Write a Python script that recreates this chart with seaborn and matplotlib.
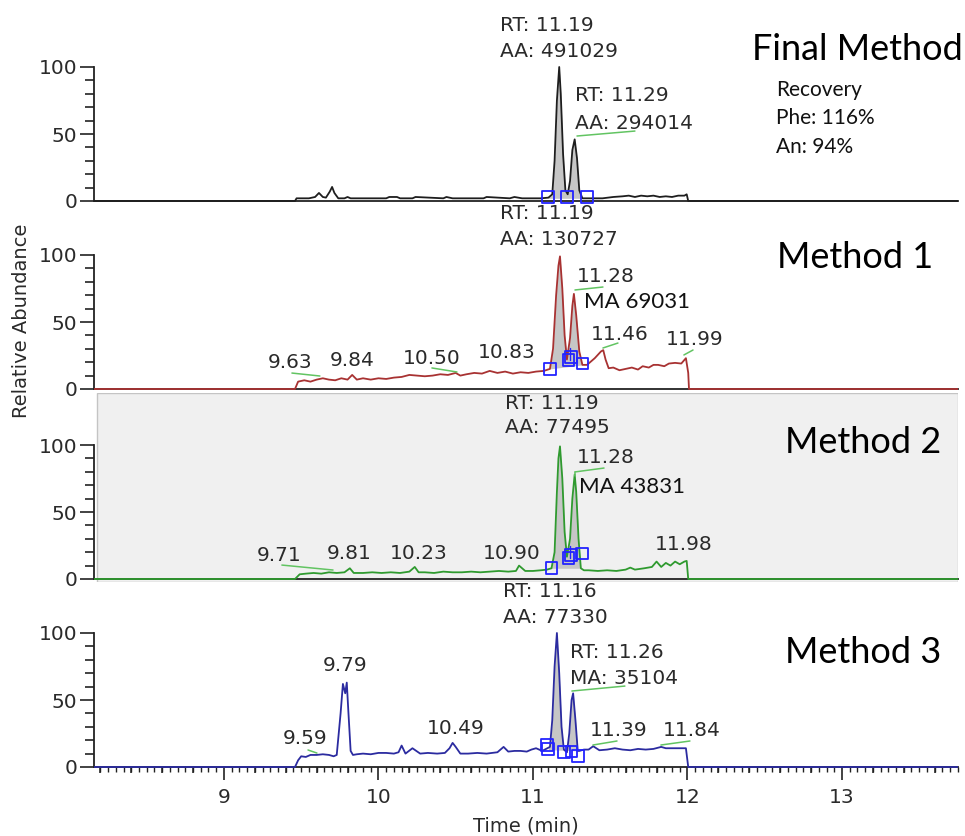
import numpy as np
import pandas as pd
import matplotlib
matplotlib.use("Agg")
import matplotlib.pyplot as plt
import seaborn as sns
from matplotlib.ticker import MultipleLocator, FixedLocator
from matplotlib.patches import Rectangle

# ---------------- data ----------------
panel_names = ["Final Method", "Method 1", "Method 2", "Method 3"]

final_t = [8.16, 9.46, 9.47, 9.55, 9.59, 9.615, 9.64, 9.66, 9.685, 9.70, 9.715, 9.74, 9.78, 9.80,
           9.82, 9.84, 10.05, 10.07, 10.12, 10.14, 10.22, 10.24, 10.42, 10.44, 10.48, 10.68, 10.70,
           10.85, 10.88, 10.93, 11.05, 11.10, 11.125, 11.14, 11.155, 11.17, 11.18, 11.195, 11.21,
           11.225, 11.24, 11.255, 11.27, 11.285, 11.30, 11.32, 11.36, 11.45, 11.52, 11.58, 11.62,
           11.66, 11.70, 11.74, 11.78, 11.82, 11.86, 11.90, 11.94, 11.98, 11.995, 12.005, 13.76]
final_v = [0, 0, 2, 2, 3, 6, 3, 2.5, 7, 10.5, 6, 2, 2, 3, 2, 2, 2, 3, 3, 2, 2, 3, 2, 3, 2, 2, 3, 2,
           3, 2, 2, 2.5, 5, 30, 75, 100, 80, 35, 8, 5, 15, 38, 46, 32, 8, 2, 2, 2, 3, 3.5, 4, 3, 4,
           3.5, 4, 3, 3.5, 3, 4, 4, 5, 0, 0]

m1_t = [8.16, 9.46, 9.48, 9.52, 9.56, 9.60, 9.64, 9.68, 9.72, 9.76, 9.80, 9.83, 9.86, 9.90, 9.95,
        10.00, 10.05, 10.10, 10.15, 10.20, 10.25, 10.30, 10.35, 10.40, 10.45, 10.50, 10.53, 10.57,
        10.62, 10.67, 10.72, 10.77, 10.82, 10.87, 10.92, 10.97, 11.02, 11.07, 11.11, 11.13, 11.15,
        11.165, 11.175, 11.19, 11.205, 11.22, 11.24, 11.255, 11.265, 11.28, 11.30, 11.32, 11.35,
        11.40, 11.44, 11.455, 11.47, 11.49, 11.52, 11.56, 11.60, 11.64, 11.68, 11.71, 11.75, 11.78,
        11.81, 11.85, 11.88, 11.92, 11.96, 11.99, 12.005, 12.01, 13.76]
m1_v = [0, 0, 5.5, 6.5, 5.5, 7, 8, 7, 6.5, 8, 7, 10.5, 7, 8, 7, 8, 7.5, 8.5, 9, 10.5, 10, 9.5, 10,
        11, 10.5, 12, 10, 11, 12, 11.5, 13.5, 12, 13, 11.5, 12.5, 12, 13, 13.5, 15, 30, 70, 92, 99,
        75, 40, 22, 38, 62, 71, 55, 28, 18, 18, 23, 28, 29, 22, 15.5, 16, 14, 15, 16, 14.5, 17, 16,
        18, 18, 17, 19, 19.5, 19, 23, 12, 0, 0]

m2_t = [8.16, 9.46, 9.49, 9.53, 9.58, 9.63, 9.68, 9.73, 9.78, 9.815, 9.84, 9.90, 9.96, 10.02, 10.08,
        10.14, 10.20, 10.235, 10.26, 10.30, 10.36, 10.42, 10.48, 10.54, 10.60, 10.66, 10.72, 10.78,
        10.84, 10.89, 10.91, 10.95, 11.00, 11.05, 11.09, 11.12, 11.14, 11.155, 11.165, 11.175,
        11.19, 11.205, 11.22, 11.24, 11.255, 11.27, 11.28, 11.295, 11.31, 11.33, 11.36, 11.42,
        11.48, 11.54, 11.60, 11.63, 11.66, 11.72, 11.77, 11.80, 11.83, 11.86, 11.89, 11.92, 11.95,
        11.98, 11.995, 12.005, 13.76]
m2_v = [0, 0, 3.5, 4, 4.5, 4, 5, 4.5, 5, 8, 4.5, 4.5, 5, 4.5, 5, 4.5, 5.5, 9, 5, 5, 4.5, 5.5, 5, 5,
        5.5, 5, 5.5, 6, 5.5, 6, 10, 6, 6, 6.5, 7, 8, 20, 65, 90, 99, 75, 35, 16.6, 30, 60, 78, 65,
        30, 8, 6.5, 6.5, 6, 6.5, 6, 7, 8.5, 7, 8, 9, 13, 9, 12, 10, 13, 11, 13, 13.5, 0, 0]

m3_t = [8.16, 9.46, 9.48, 9.50, 9.53, 9.56, 9.60, 9.64, 9.68, 9.71, 9.73, 9.755, 9.77, 9.785, 9.795,
        9.805, 9.82, 9.835, 9.86, 9.90, 9.95, 10.00, 10.05, 10.10, 10.13, 10.15, 10.175, 10.22,
        10.27, 10.32, 10.38, 10.43, 10.46, 10.48, 10.50, 10.53, 10.58, 10.64, 10.70, 10.77, 10.81,
        10.84, 10.88, 10.92, 10.96, 10.99, 11.02, 11.06, 11.11, 11.125, 11.14, 11.155, 11.17,
        11.185, 11.20, 11.22, 11.235, 11.25, 11.26, 11.275, 11.29, 11.30, 11.33, 11.36,
        11.39, 11.43, 11.48, 11.53, 11.58, 11.63, 11.68, 11.73, 11.78, 11.83, 11.86, 11.90, 11.95,
        11.99, 12.005, 13.76]
m3_v = [0, 0, 5, 8, 7.5, 9, 9, 9.5, 9, 8, 9, 40, 62, 55, 63, 42, 12, 9, 9.5, 10, 9.5, 10.5, 10.5,
        10, 11, 16, 10, 14, 10, 10.5, 10, 10.5, 14, 18, 15, 10, 10, 10.5, 10, 11, 15, 11.5, 12, 12,
        11.5, 13, 14, 12, 15, 35, 75, 100, 70, 30, 13, 11, 25, 50, 55, 35, 12, 12, 13,
        13, 15.5, 12.5, 13, 14, 13, 12.5, 13.5, 13, 13.5, 15, 14, 14, 14, 14, 0, 0]

# integration boundary squares (time, intensity)
final_sq_t = [11.097, 11.22, 11.35]
final_sq_v = [3, 3, 3]
m1_sq_t = [11.11, 11.23, 11.245, 11.32]
m1_sq_v = [15, 21.5, 24, 19]
m2_sq_t = [11.12, 11.23, 11.245, 11.315]
m2_sq_v = [8, 15.4, 18, 19]
m3_sq_t = [11.09, 11.095, 11.20, 11.25, 11.29]
m3_sq_v = [16.5, 13.5, 11, 11.5, 8]

# integrated peak windows (start, end, baseline start, baseline end)
final_fill = (11.10, 11.34, 2, 2)
m1_fill = (11.11, 11.32, 15, 18)
m2_fill = (11.12, 11.31, 8, 8)
m3_fill = (11.10, 11.29, 13, 12)

recovery_lines = ["Recovery", "Phe: 116%", "An: 94%"]

y_ticks = [0, 50, 100]
x_ticks = [9, 10, 11, 12, 13]

# ---------------- style / layout ----------------
sns.set_style("ticks")
plt.rcParams["font.family"] = ["DejaVu Sans"]

colors = ["#1e1e1e", "#a83232", "#2f9a2f", "#2b2ba0"]
traces = [(final_t, final_v), (m1_t, m1_v), (m2_t, m2_v), (m3_t, m3_v)]
squares = [(final_sq_t, final_sq_v), (m1_sq_t, m1_sq_v), (m2_sq_t, m2_sq_v), (m3_sq_t, m3_sq_v)]
fills = [final_fill, m1_fill, m2_fill, m3_fill]

W, H = 965, 836
fig = plt.figure(figsize=(W / 100, H / 100), dpi=100)
fig.patch.set_facecolor("white")

x_left_px, x_right_px = 94, 958
xlim = (8.159, 13.751)
ylim = (-2.5, 138.5)
y0_px = [201, 389, 579, 767]
px_per_unit = 1.34
ax_h_px = (ylim[1] - ylim[0]) * px_per_unit

TXT = "#2a2a2a"
GREEN = "#62c462"
ann_fs = 14.5

# annotations per panel: (text, t, v, family)
annotations = [
    [("RT: 11.19", 10.786, 131.3, "dv"), ("AA: 491029", 10.786, 111.2, "dv"),
     ("RT: 11.29", 11.272, 78.4, "dv"), ("AA: 294014", 11.272, 58.2, "dv")],
    [("RT: 11.19", 10.786, 130.6, "dv"), ("AA: 130727", 10.786, 111.2, "dv"),
     ("11.28", 11.285, 83.6, "dv"), ("MA 69031", 11.33, 64.9, "lato"),
     ("11.46", 11.375, 40.3, "dv"), ("11.99", 11.861, 37.3, "dv"),
     ("10.83", 10.644, 26.9, "dv"), ("10.50", 10.159, 23.1, "dv"),
     ("9.84", 9.686, 21.6, "dv"), ("9.63", 9.285, 20.1, "dv")],
    [("RT: 11.19", 10.819, 131.3, "dv"), ("AA: 77495", 10.819, 112.7, "dv"),
     ("11.28", 11.285, 90.3, "dv"), ("MA 43831", 11.298, 68.7, "lato"),
     ("11.98", 11.79, 25.4, "dv"), ("10.90", 10.676, 19.4, "dv"),
     ("10.23", 10.074, 19.4, "dv"), ("9.81", 9.667, 19.4, "dv"),
     ("9.71", 9.214, 17.2, "dv")],
    [("RT: 11.16", 10.806, 130.6, "dv"), ("AA: 77330", 10.806, 111.9, "dv"),
     ("RT: 11.26", 11.239, 85.8, "dv"), ("MA: 35104", 11.239, 66.4, "dv"),
     ("11.39", 11.369, 27.6, "dv"), ("11.84", 11.841, 27.6, "dv"),
     ("10.49", 10.314, 29.1, "dv"), ("9.79", 9.641, 76.1, "dv"),
     ("9.59", 9.382, 21.6, "dv")],
]
green_lines = [
    [((11.285, 11.66), (48.5, 52.2))],
    [((11.272, 11.453), (73.9, 76.1)), ((11.453, 11.55), (30.6, 34.3)),
     ((11.977, 12.036), (25.4, 29.1)), ((10.346, 10.508), (15.7, 12.7)),
     ((9.44, 9.621), (11.9, 9.7))],
    [((11.272, 11.46), (79.9, 82.8)), ((11.272, 11.272), (79.9, 77)),
     ((9.375, 9.706), (10.4, 6.7))],
    [((11.252, 11.595), (56.7, 60.4)), ((11.388, 11.544), (16.4, 19.4)),
     ((11.828, 12.016), (16.4, 19.4)), ((9.544, 9.602), (12.7, 10.4))],
]
titles_pos = [(12.417, 112.7), (12.579, 97.8), (12.631, 102.2), (12.631, 85.8)]

axes = []
for i in range(4):
    bottom_px = y0_px[i] + (0 - ylim[0]) * px_per_unit
    rect = [x_left_px / W, 1 - bottom_px / H, (x_right_px - x_left_px) / W, ax_h_px / H]
    ax = fig.add_axes(rect)
    ax.set_facecolor("none")
    ax.set_xlim(*xlim)
    ax.set_ylim(*ylim)
    axes.append(ax)

    if i == 2:
        ax.add_patch(Rectangle((0.004, 0.0), 0.996, 1.0, transform=ax.transAxes,
                               facecolor="#f0f0f0", edgecolor="#c4c4c4", lw=1.0, zorder=0))

    t, v = traces[i]
    df = pd.DataFrame({"t": t, "v": v})
    # integrated peak shading
    fs, fe, b0, b1 = fills[i]
    ta = np.array(t, float)
    va = np.array(v, float)
    m = (ta >= fs) & (ta <= fe)
    tt = np.concatenate([[fs], ta[m], [fe]])
    vv = np.concatenate([[np.interp(fs, ta, va)], va[m], [np.interp(fe, ta, va)]])
    base = b0 + (b1 - b0) * (tt - fs) / (fe - fs)
    ax.fill_between(tt, base, vv, color="#c6c6c6", lw=0, zorder=1)

    sns.lineplot(data=df, x="t", y="v", ax=ax, color=colors[i], lw=1.3,
                 estimator=None, sort=False, zorder=3)

    st, sv = squares[i]
    ax.scatter(st, sv, marker="s", s=72, facecolors="none", edgecolors="#2323ff",
               linewidths=1.3, zorder=5, clip_on=False)
    if i in (1, 2):
        ax.plot([11.24, 11.24], [sv[1], sv[1] + 9], color="#2323ff", lw=1.0, zorder=5)

    for (x2, y2) in green_lines[i]:
        ax.plot(x2, y2, color=GREEN, lw=1.1, zorder=4, clip_on=False)

    for (s, tx, ty, fam) in annotations[i]:
        if fam == "lato":
            ax.text(tx, ty, s, ha="left", va="center", fontsize=16, family="Lato",
                    color="#111111", clip_on=False, zorder=6)
        else:
            ax.text(tx, ty, s, ha="left", va="center", fontsize=ann_fs, family="DejaVu Sans",
                    color=TXT, clip_on=False, zorder=6)

    ax.text(titles_pos[i][0], titles_pos[i][1], panel_names[i], ha="left", va="center",
            fontsize=26, family="Lato", color="black", clip_on=False, zorder=6)

    # axes styling
    ax.set_xlabel("")
    ax.set_ylabel("")
    for sp in ["top", "right"]:
        ax.spines[sp].set_visible(False)
    ax.spines["left"].set_bounds(0, 100)
    ax.spines["left"].set_color("#222222")
    ax.spines["left"].set_linewidth(1.3)
    ax.spines["bottom"].set_position(("data", 0))
    ax.spines["bottom"].set_color("#222222")
    ax.spines["bottom"].set_linewidth(1.3)
    ax.spines["bottom"].set_zorder(2)

    ax.yaxis.set_major_locator(FixedLocator(y_ticks))
    ax.yaxis.set_minor_locator(FixedLocator([10, 20, 30, 40, 60, 70, 80, 90]))
    ax.tick_params(axis="y", which="major", direction="out", length=10, width=1.2,
                   color="#222222", labelsize=14.5, labelcolor=TXT, pad=2)
    ax.tick_params(axis="y", which="minor", direction="out", length=6.5, width=1.2,
                   color="#222222")

    if i < 3:
        ax.tick_params(axis="x", which="both", bottom=False, labelbottom=False)
    else:
        ax.xaxis.set_major_locator(FixedLocator(x_ticks))
        ax.xaxis.set_minor_locator(MultipleLocator(0.05))
        ax.tick_params(axis="x", which="major", direction="out", length=9, width=1.2,
                       color="#222222", labelsize=14.5, labelcolor=TXT, pad=6)
        ax.tick_params(axis="x", which="minor", direction="out", length=3.5, width=1.0,
                       color="#222222")
        mids = [x for x in np.round(np.arange(8.2, 13.75, 0.2), 2) if abs(x - round(x)) > 1e-6]
        ax.vlines(mids, 0, -6.0 / px_per_unit, color="#222222", lw=1.1,
                  clip_on=False, zorder=2)

# recovery text in first panel
rec_y = [82.8, 61.9, 40.3]
for s, yv in zip(recovery_lines, rec_y):
    axes[0].text(12.573, yv, s, ha="left", va="center", fontsize=15, family="Lato",
                 color="#111111", clip_on=False)

fig.text(22 / W, 1 - 321 / H, "Relative Abundance", rotation=90, ha="center", va="center",
         fontsize=14, color=TXT, family="DejaVu Sans")
fig.text(526 / W, 1 - 826 / H, "Time (min)", ha="center", va="center",
         fontsize=14, color=TXT, family="DejaVu Sans")

fig.savefig("out.png", dpi=100, facecolor="white")
